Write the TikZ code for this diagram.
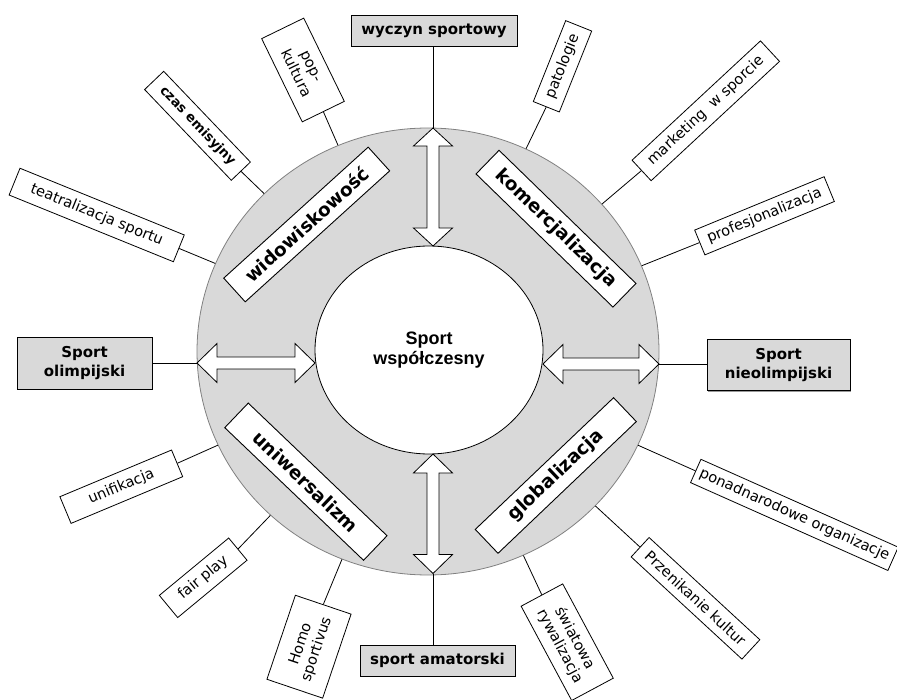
\documentclass[tikz,border=0pt]{standalone}
\usepackage{fontspec}
\setmainfont{DejaVu Sans}
\newfontfamily\arialf{Liberation Sans}
\usetikzlibrary{shapes.geometric,shadows}
\newcommand{\blockarr}[4]{%
  \draw[arrowbox, shift={(#1)}, rotate=#2]
    (0,0) -- (#3,19.5) -- (#3,6) -- (#4-#3,6) -- (#4-#3,19.5) -- (#4,0)
    -- (#4-#3,-19.5) -- (#4-#3,-6) -- (#3,-6) -- (#3,-19.5) -- cycle;}
\begin{document}
\begin{tikzpicture}[x=1pt,y=-1pt,
  conn/.style={draw=black, line width=0.8pt},
  graybox/.style={draw=black, fill=gray!30, line width=0.9pt,
    drop shadow={shadow xshift=1.3pt, shadow yshift=-1.3pt, fill=gray!80, opacity=1},
    font=\bfseries\fontsize{15}{19}\selectfont, align=center, inner sep=0pt},
  themebox/.style={draw=black, fill=white, line width=0.9pt,
    font=\bfseries\fontsize{18.5}{21}\selectfont, inner sep=0pt},
  labelbox/.style={draw=black, fill=white, line width=0.8pt,
    font=\fontsize{14.6}{16.8}\selectfont, align=center, inner sep=0pt},
  arrowbox/.style={draw=black, fill=white, line width=0.8pt, line join=miter},
]
\useasboundingbox (0,0) rectangle (897,700);
\clip (0,0) rectangle (897,700);

% ring and core
\node[ellipse, draw=gray, fill=gray!30, line width=0.8pt, inner sep=0pt,
  minimum width=462pt, minimum height=447pt] (ring) at (428,351.5) {};
\node[ellipse, draw=black, fill=white, line width=0.8pt, inner sep=0pt,
  minimum width=228pt, minimum height=208pt, align=center,
  font=\arialf\bfseries\fontsize{18}{20.7}\selectfont] (core) at (429,350)
  {Sport\\współczesny};

% arrow ends
\coordinate (tA) at (433,128);
\coordinate (lA) at (197,363);
\coordinate (rA) at (659,364);
\coordinate (bA) at (433,573.5);

% double block arrows
\blockarr{433,128}{-90}{18}{118}
\blockarr{433,454}{-90}{19}{119.5}
\blockarr{197,363}{0}{20}{118}
\blockarr{543,364}{0}{20}{116}

% theme boxes
\node[themebox, rotate=42.2, minimum width=195pt, minimum height=32pt] (wid) at (306.7,224.5) {widowiskowość};
\node[themebox, rotate=-44.2, minimum width=191pt, minimum height=33pt] (kom) at (556,228.7) {komercjalizacja};
\node[themebox, rotate=-43.7, minimum width=192pt, minimum height=34pt] (uni) at (305.9,481.7) {uniwersalizm};
\node[themebox, rotate=43.6, minimum width=191pt, minimum height=33pt] (glo) at (555.8,475.5) {globalizacja};

% gray boxes
\node[graybox, minimum width=166pt, minimum height=31pt] (wyczyn) at (434,30.5) {wyczyn sportowy};
\node[graybox, minimum width=135pt, minimum height=52pt] (olimp) at (84.5,363) {Sport\\olimpijski};
\node[graybox, minimum width=143pt, minimum height=51pt] (nieol) at (778.5,365) {Sport\\nieolimpijski};
\node[graybox, minimum width=155pt, minimum height=31pt] (amat) at (437.5,660.5) {sport amatorski};

\draw[conn] (tA) -- (tA |- wyczyn.south);
\draw[conn] (lA) -- (lA -| olimp.east);
\draw[conn] (rA) -- (rA -| nieol.west);
\draw[conn] (bA) -- (bA |- amat.north);

% small labels
\node[labelbox, rotate=-64, minimum width=92.6pt, minimum height=46.8pt] (pop) at (303,70) {pop-\\kultura};
\node[labelbox, rotate=-46.3, minimum width=125.5pt, minimum height=26.4pt, font=\bfseries\fontsize{13.2}{15}\selectfont] (czas) at (197.5,125.8) {czas emisyjny};
\node[labelbox, rotate=-22.1, minimum width=177.3pt, minimum height=28.9pt] (teatr) at (96.7,215) {teatralizacja sportu};
\node[labelbox, rotate=68.2, minimum width=87.2pt, minimum height=28pt] (patol) at (562.5,66.3) {patologie};
\node[labelbox, rotate=42.9, minimum width=175.3pt, minimum height=28pt] (market) at (705.8,110.8) {marketing~~w sporcie};
\node[labelbox, rotate=22.4, minimum width=140pt, minimum height=26.8pt] (profes) at (764.5,215.8) {profesjonalizacja};
\node[labelbox, rotate=22.7, minimum width=121pt, minimum height=28.9pt] (unif) at (121.3,486.7) {unifikacja};
\node[labelbox, rotate=39.6, minimum width=90pt, minimum height=28.8pt] (fair) at (203.2,577.8) {fair play};
\node[labelbox, rotate=71.3, minimum width=88.7pt, minimum height=58.8pt] (homo) at (309,646.7) {Homo\\sportivus};
\node[labelbox, rotate=-61.8, minimum width=107pt, minimum height=47.2pt] (swiat) at (567.2,642.2) {światowa\\rywalizacja};
\node[labelbox, rotate=-42.7, minimum width=150.7pt, minimum height=26.4pt] (przen) at (695.5,598.3) {Przenikanie kultur};
\node[labelbox, rotate=-24, minimum width=216pt, minimum height=25.5pt] (ponad) at (794.4,514.9) {ponadnarodowe organizacje};

% label connectors
\draw[conn] (pop.east) -- (ring);
\draw[conn] (czas.east) -- (ring);
\draw[conn] (teatr.east) -- (ring);
\draw[conn] (patol.west) -- (ring);
\draw[conn] (market.west) -- (ring);
\draw[conn] (profes.west) -- (ring);
\draw[conn] (unif.east) -- (ring);
\draw[conn] (fair.east) -- (ring);
\draw[conn] (homo.east) -- (ring);
\draw[conn] (swiat.west) -- (ring);
\draw[conn] (przen.west) -- (ring);
\draw[conn] (ponad.west) -- (ring);
\end{tikzpicture}
\end{document}
